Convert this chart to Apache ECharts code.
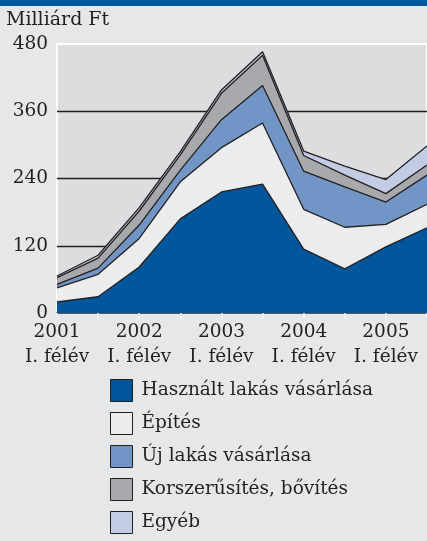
<!DOCTYPE html>
<html>
<head>
<meta charset="utf-8">
<script src="https://cdn.jsdelivr.net/npm/echarts@6/dist/echarts.min.js"></script>
<style>
  html, body { margin: 0; padding: 0; background: #e6e7e8; }
  #myChart { width: 427px; height: 541px; }
</style>
</head>
<body>
<div id="myChart"></div>
<script>
// félévek
const categories = [
  "2001\nI. félév", "2001\nII. félév", "2002\nI. félév", "2002\nII. félév",
  "2003\nI. félév", "2003\nII. félév", "2004\nI. félév", "2004\nII. félév",
  "2005\nI. félév", "2005\nII. félév"
];
const seriesNames = ["Használt lakás vásárlása", "Építés", "Új lakás vásárlása", "Korszerűsítés, bővítés", "Egyéb"];
// milliárd Ft
const hasznalt = [20, 29, 82, 168, 216, 230, 114, 79, 118, 152];
const epites = [25, 40, 51, 66, 79, 109, 71, 74, 40, 42];
const ujLakas = [6, 11, 24, 21, 50, 67, 68, 72, 40, 52];
const korszerusites = [12, 18, 25, 27, 47, 54, 28, 21, 15, 18];
const egyeb = [3, 5, 6, 6, 6, 6, 8, 16, 25, 34];
const yTicks = [0, 120, 240, 360, 480];

const colors = ["#00569b", "#ebeced", "#7195c5", "#a8a9ac", "#c2cce5"];
const font = "DejaVu Serif";
const ink = "#231f20";

let myChart = echarts.init(document.getElementById("myChart"));

function area(name, data, color) {
  return {
    name: name,
    type: "line",
    stack: "total",
    data: data,
    color: color,
    symbol: "none",
    lineStyle: { color: ink, width: 1.3 },
    areaStyle: { color: color, opacity: 1 },
  };
}

myChart.setOption({
  backgroundColor: "#e6e7e8",
  animation: false,
  graphic: [
    {
      type: "rect",
      shape: { x: 0, y: 0, width: 427, height: 6 },
      style: { fill: "#00579b" },
    },
  ],
  title: {
    text: "Milliárd Ft",
    left: 6,
    top: 11,
    padding: 0,
    textStyle: { fontFamily: font, fontSize: 19, fontWeight: "normal", color: ink },
  },
  legend: {
    orient: "vertical",
    left: 110,
    top: 379,
    height: 200,
    padding: 0,
    itemWidth: 22,
    itemHeight: 22,
    itemGap: 10,
    icon: "rect",
    selectedMode: false,
    data: seriesNames,
    itemStyle: { borderColor: ink, borderWidth: 1 },
    textStyle: { fontFamily: font, fontSize: 18.5, lineHeight: 22, color: ink, padding: [0, 0, 0, 4] },
  },
  grid: {
    left: 57,
    top: 44,
    right: -1,
    bottom: 228,
    show: true,
    backgroundColor: "#dcdddf",
    borderColor: "#ffffff",
    borderWidth: 2,
  },
  xAxis: {
    type: "category",
    boundaryGap: false,
    data: categories,
    axisLine: { show: true, lineStyle: { color: ink, width: 1.5 } },
    axisTick: { show: true, interval: 0, length: 5, lineStyle: { color: "#ffffff", width: 1.5 } },
    axisLabel: {
      interval: 1,
      margin: 7,
      fontFamily: font,
      fontSize: 18.5,
      lineHeight: 25,
      color: ink,
    },
  },
  yAxis: {
    type: "value",
    min: yTicks[0],
    max: yTicks[yTicks.length - 1],
    interval: 120,
    axisLine: { show: false },
    axisTick: { show: false },
    axisLabel: { margin: 9, fontFamily: font, fontSize: 18.5, color: ink },
    splitLine: {
      show: true,
      showMinLine: false,
      showMaxLine: false,
      lineStyle: { color: ink, width: 1.3 },
    },
  },
  series: [
    area(seriesNames[0], hasznalt, colors[0]),
    area(seriesNames[1], epites, colors[1]),
    area(seriesNames[2], ujLakas, colors[2]),
    area(seriesNames[3], korszerusites, colors[3]),
    area(seriesNames[4], egyeb, colors[4]),
  ],
});
</script>
</body>
</html>
